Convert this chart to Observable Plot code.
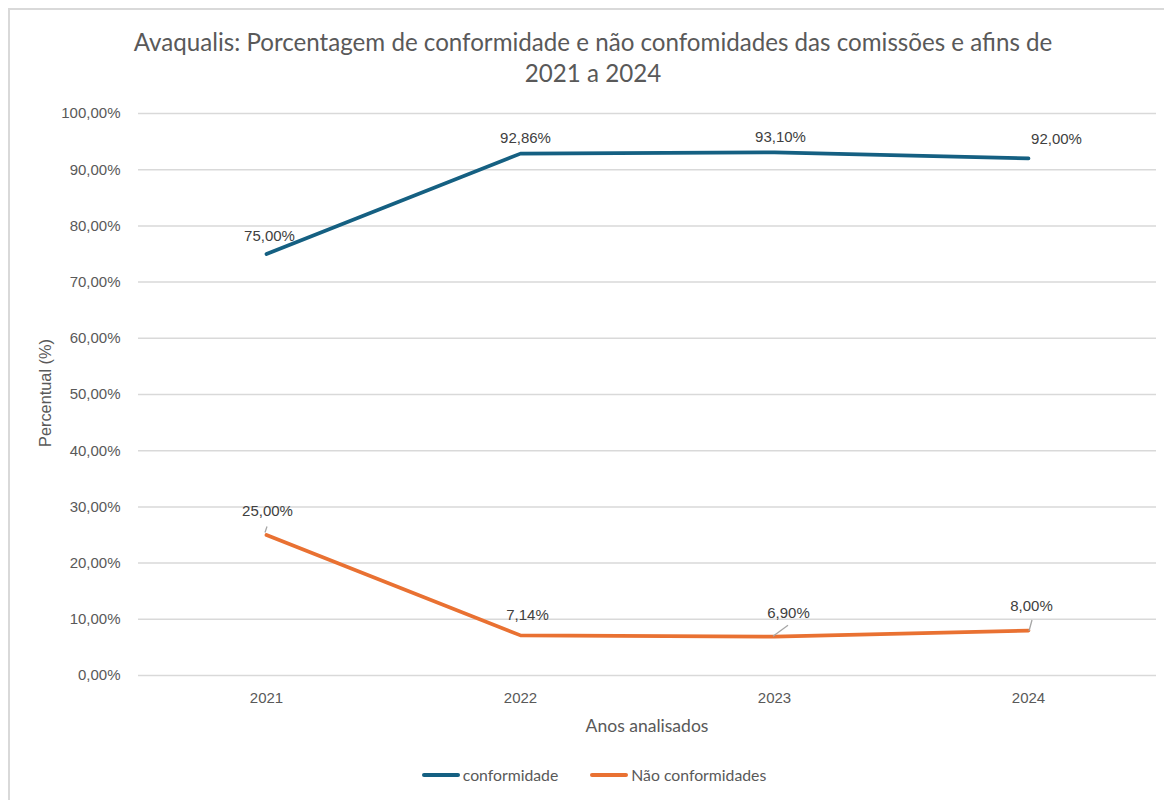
<!DOCTYPE html>
<html>
<head>
<meta charset="utf-8">
<script src="https://cdn.jsdelivr.net/npm/d3@7"></script>
<script src="https://cdn.jsdelivr.net/npm/@observablehq/plot@0.6"></script>
<style>
  html, body { margin: 0; padding: 0; background: #fff; }
  #wrap { position: relative; width: 1164px; height: 800px; overflow: hidden; background: #fff; }
  #frame { position: absolute; left: 8px; top: 8px; width: 1300px; height: 900px; border: 2px solid #d9d9d9; box-sizing: border-box; }
  #title { position: absolute; left: 11px; width: 1164px; top: 26px; text-align: center; color: #595959; font-family: Lato, "Liberation Sans", sans-serif; line-height: 31px; }
  #chart { position: absolute; left: 0; top: 0; }
  #xtitle { position: absolute; left: 547px; width: 200px; top: 715px; text-align: center; color: #595959; font-family: Lato, "Liberation Sans", sans-serif; }
  #ytitle { position: absolute; left: 45px; top: 393px; transform: translate(-50%, -50%) rotate(-90deg); white-space: nowrap; color: #595959; font-family: "Liberation Sans", Arial, sans-serif; }
  #legend { position: absolute; left: 12px; width: 1164px; top: 765px; display: flex; justify-content: center; align-items: center; font-family: Lato, "Liberation Sans", sans-serif; color: #595959; }
  .item { display: flex; align-items: center; margin: 0 16px; }
  .sw { width: 38px; height: 4px; border-radius: 2px; margin-right: 3px; }
</style>
</head>
<body>
<div id="wrap">
  <div id="frame"></div>
  <div id="chart"></div>
  <div id="title"></div>
  <div id="xtitle"></div>
  <div id="ytitle"></div>
  <div id="legend"></div>
</div>
<script>
// ---- data ----
const titleLines = ["Avaqualis: Porcentagem de conformidade e não confomidades das comissões e afins de", "2021 a 2024"];
const years = ["2021", "2022", "2023", "2024"];
const conformidade = [75.00, 92.86, 93.10, 92.00];
const naoConformidades = [25.00, 7.14, 6.90, 8.00];
const yTicks = [0, 10, 20, 30, 40, 50, 60, 70, 80, 90, 100];
const seriesNames = ["conformidade", "Não conformidades"];
const xTitle = "Anos analisados";
const yTitle = "Percentual (%)";

// ---- styling ----
const colors = ["#156082", "#E97132"];
const fmt = v => v.toFixed(2).replace(".", ",") + "%";

const ctx = document.createElement("canvas").getContext("2d");
function fitSize(text, family, target) {
  ctx.font = `100px ${family}`;
  return 100 * target / ctx.measureText(text).width;
}

const tEl = document.getElementById("title");
tEl.style.fontSize = fitSize(titleLines[0], "Lato", 919).toFixed(2) + "px";
tEl.innerHTML = titleLines.map(s => `<div>${s}</div>`).join("");

const xt = document.getElementById("xtitle");
xt.textContent = xTitle;
xt.style.fontSize = fitSize(xTitle, "Lato", 123).toFixed(2) + "px";

const yt = document.getElementById("ytitle");
yt.textContent = yTitle;
yt.style.fontSize = fitSize(yTitle, "'Liberation Sans'", 108).toFixed(2) + "px";

const lg = document.getElementById("legend");
lg.style.fontSize = fitSize(seriesNames[1], "Lato", 135).toFixed(2) + "px";
lg.innerHTML = seriesNames.map((n, i) =>
  `<div class="item"><div class="sw" style="background:${colors[i]}"></div><span>${n}</span></div>`).join("");

const rowsC = years.map((y, i) => ({year: y, value: conformidade[i], idx: i}));
const rowsN = years.map((y, i) => ({year: y, value: naoConformidades[i], idx: i}));

const label = (rows, filter, dx, dy) =>
  Plot.text(rows, {filter, x: "year", y: "value", text: d => fmt(d.value), dx, dy, fill: "#404040", fontSize: 15});

const plot = Plot.plot({
  width: 1164,
  height: 800,
  marginTop: 113,
  marginBottom: 125,
  marginLeft: 138,
  marginRight: 8,
  style: {background: "transparent", color: "#595959", fontFamily: "'Liberation Sans', Arial, sans-serif", fontSize: "15px"},
  x: {type: "point", domain: years, padding: 0.5},
  y: {domain: [0, 100]},
  marks: [
    Plot.gridY(yTicks, {stroke: "#d9d9d9", strokeOpacity: 1, strokeWidth: 1.5}),
    Plot.axisY({ticks: yTicks, tickSize: 0, tickPadding: 18, tickFormat: fmt, label: null, fontSize: 15, fill: "#595959"}),
    Plot.axisX({tickSize: 0, tickPadding: 17, label: null, fontSize: 15, fill: "#595959"}),
    Plot.lineY(rowsC, {x: "year", y: "value", stroke: colors[0], strokeWidth: 3.75, strokeLinecap: "round", strokeLinejoin: "round"}),
    Plot.lineY(rowsN, {x: "year", y: "value", stroke: colors[1], strokeWidth: 3.75, strokeLinecap: "round", strokeLinejoin: "round"}),
    label(rowsC, d => d.idx === 0, 3, -18),
    label(rowsC, d => d.idx === 1, 5, -15),
    label(rowsC, d => d.idx === 2, 6, -15),
    label(rowsC, d => d.idx === 3, 28, -19),
    label(rowsN, d => d.idx === 0, 1, -24),
    label(rowsN, d => d.idx === 1, 7, -20),
    label(rowsN, d => d.idx === 2, 14, -24),
    label(rowsN, d => d.idx === 3, 3, -24)
  ]
});

// leader lines from points to their data labels (offsets relative to scaled positions)
const sx = plot.scale("x"), sy = plot.scale("y");
const leaders = [
  {idx: 0, dx1: -1, dy1: -2, dx2: 1, dy2: -8},
  {idx: 2, dx1: -1, dy1: 0, dx2: 14, dy2: -11},
  {idx: 3, dx1: 1, dy1: 1, dx2: 4, dy2: -10}
];
const g = d3.select(plot).append("g").attr("stroke", "#a6a6a6").attr("stroke-width", 1.3);
for (const l of leaders) {
  const px = sx.apply(years[l.idx]), py = sy.apply(naoConformidades[l.idx]);
  g.append("line").attr("x1", px + l.dx1).attr("y1", py + l.dy1).attr("x2", px + l.dx2).attr("y2", py + l.dy2);
}
document.getElementById("chart").appendChild(plot);
</script>
</body>
</html>
